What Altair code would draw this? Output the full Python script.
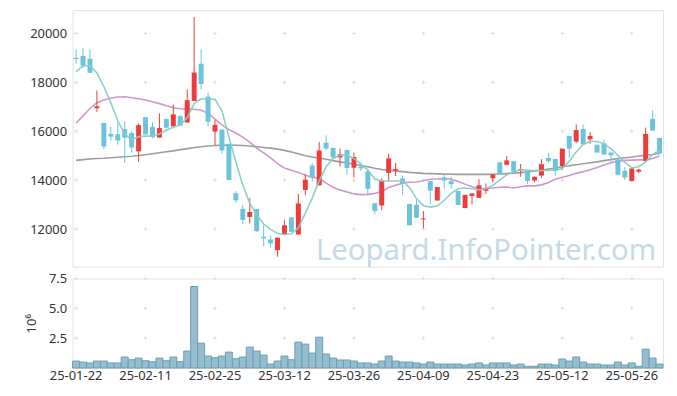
import altair as alt
import pandas as pd

dates = [
    "25-01-22", "25-01-23", "25-01-24", "25-01-31",
    "25-02-03", "25-02-04", "25-02-05", "25-02-06", "25-02-07", "25-02-10", "25-02-11", "25-02-12",
    "25-02-13", "25-02-14", "25-02-17", "25-02-18", "25-02-19", "25-02-20", "25-02-21", "25-02-24",
    "25-02-25", "25-02-26", "25-02-27", "25-02-28",
    "25-03-04", "25-03-05", "25-03-06", "25-03-07", "25-03-10", "25-03-11", "25-03-12", "25-03-13",
    "25-03-14", "25-03-17", "25-03-18", "25-03-19", "25-03-20", "25-03-21", "25-03-24", "25-03-25",
    "25-03-26", "25-03-27", "25-03-28", "25-03-31",
    "25-04-01", "25-04-02", "25-04-03", "25-04-04", "25-04-07", "25-04-08", "25-04-09", "25-04-10",
    "25-04-11", "25-04-14", "25-04-15", "25-04-16", "25-04-17", "25-04-18", "25-04-21", "25-04-22",
    "25-04-23", "25-04-24", "25-04-25", "25-04-28", "25-04-29", "25-04-30",
    "25-05-02", "25-05-07", "25-05-08", "25-05-09", "25-05-12", "25-05-13", "25-05-14", "25-05-15",
    "25-05-16", "25-05-19", "25-05-20", "25-05-21", "25-05-22", "25-05-23", "25-05-26", "25-05-27",
    "25-05-28", "25-05-29", "25-05-30",
]

opens = [19000, 19080, 18960, 16940, 16340, 15890, 15880, 16090, 15930, 15180,
         16580, 16180, 15740, 16500, 16200, 16620, 16360, 17240, 18760, 17410,
         15990, 16070, 15490, 13470, 12830, 12500, 12820, 11690, 11580, 11140,
         11780, 12480, 11780, 13600, 14600, 13790, 15530, 15320, 14930, 15240,
         14510, 14560, 14360, 13060, 12970, 14300, 14400, 14070, 13030, 12990,
         12400, 13960, 13170, 14110, 13960, 13560, 12860, 13360, 13280, 13570,
         14080, 14730, 14630, 14770, 14400, 14390, 13990, 14190, 14910, 14870,
         14580, 15810, 15580, 16090, 15670, 15450, 15500, 15130, 14850, 14380,
         13970, 14350, 14780, 16500, 15730]
highs = [19350, 19390, 19350, 17670, 16340, 16180, 16360, 16400, 16000, 16320,
         16580, 16360, 16730, 16530, 17090, 16660, 17710, 20670, 19350, 17580,
         16470, 16070, 15490, 13560, 13000, 13270, 12820, 12160, 11740, 11650,
         12390, 12480, 13450, 14250, 14700, 15560, 15830, 15320, 15290, 15240,
         15130, 14620, 14460, 13060, 14080, 15090, 14700, 14190, 13030, 13210,
         12740, 13960, 13720, 14240, 14140, 13560, 13400, 13460, 14050, 13870,
         14230, 14730, 14990, 14770, 14660, 14390, 14140, 14860, 15110, 14870,
         15290, 15810, 16280, 16270, 15960, 15450, 15670, 15130, 14850, 14550,
         14480, 14460, 16150, 16860, 15730]
lows = [18750, 18590, 18380, 16790, 15260, 15620, 15450, 14710, 15120, 14750,
        15870, 15720, 15740, 16120, 16200, 16230, 16360, 17240, 17710, 16200,
        15420, 15080, 14010, 13090, 12210, 12230, 11890, 11310, 11250, 10870,
        11780, 11890, 11780, 13400, 13950, 13790, 15220, 14850, 14560, 14210,
        14110, 14380, 13370, 12610, 12780, 13970, 14170, 13390, 12160, 12470,
        12040, 13030, 13170, 13650, 13650, 12990, 12860, 13010, 13280, 13440,
        13910, 14260, 14630, 14350, 14140, 13840, 13910, 14080, 14700, 14190,
        14420, 14910, 15520, 15460, 15490, 15130, 15050, 14750, 14190, 14010,
        13950, 14280, 14780, 16030, 15090]
closes = [18950, 18680, 18390, 17020, 15380, 15780, 15620, 15740, 15340, 16250,
          15870, 15760, 16130, 16150, 16690, 16230, 17270, 18400, 17930, 16390,
          16260, 15220, 14010, 13180, 12380, 12700, 11920, 11620, 11420, 11650,
          12160, 11890, 13050, 14020, 14120, 15210, 15290, 14930, 15060, 14500,
          14950, 14480, 13650, 12740, 13990, 14890, 14460, 13870, 12160, 12470,
          12440, 13570, 13720, 13990, 13840, 12990, 13400, 13460, 13790, 13680,
          14230, 14260, 14810, 14350, 14450, 13970, 14140, 14650, 14780, 14380,
          15290, 15290, 16050, 15460, 15810, 15130, 15050, 15020, 14220, 14110,
          14480, 14430, 15890, 16030, 15090]
# volume in millions of shares
volumes = [0.58, 0.50, 0.42, 0.58, 0.58, 0.42, 0.42, 0.92, 0.69, 0.83,
           0.61, 0.53, 0.83, 0.61, 0.92, 0.53, 1.42, 6.83, 2.08, 1.00,
           0.86, 1.00, 1.33, 0.78, 0.92, 1.75, 1.42, 1.08, 0.33, 0.58,
           1.00, 0.69, 2.17, 2.00, 1.25, 2.58, 1.17, 0.83, 0.67, 0.67,
           0.58, 0.42, 0.42, 0.33, 0.58, 1.00, 0.58, 0.50, 0.50, 0.42,
           0.33, 0.50, 0.33, 0.33, 0.33, 0.33, 0.25, 0.33, 0.42, 0.25,
           0.42, 0.42, 0.42, 0.25, 0.33, 0.14, 0.14, 0.33, 0.33, 0.25,
           0.75, 0.58, 0.92, 0.50, 0.33, 0.33, 0.25, 0.25, 0.50, 0.25,
           0.42, 0.14, 1.58, 0.83, 0.33]
ma_short = [18440, 18680, 18680, 18380, 17820, 17170, 16430, 15890, 15650, 15780,
            15800, 15820, 15890, 16050, 16160, 16260, 16550, 17140, 17330, 17310,
            17310, 16840, 15760, 14750, 13800, 13060, 12590, 12210, 11990, 11820,
            11780, 11810, 12050, 12650, 13280, 13970, 14550, 14890, 15020, 15020,
            14890, 14660, 14420, 14050, 13970, 13970, 13970, 13970, 13700, 13250,
            12970, 12900, 12950, 13180, 13460, 13650, 13680, 13650, 13610, 13650,
            13790, 14010, 14220, 14350, 14420, 14420, 14380, 14400, 14400, 14420,
            14480, 14780, 15150, 15460, 15580, 15580, 15490, 15290, 15020, 14730,
            14510, 14550, 14750, 15050, 15220]
ma_mid = [16340, 16630, 16930, 17170, 17280, 17350, 17400, 17410, 17370, 17330,
          17280, 17210, 17130, 17040, 16960, 16920, 16900, 16900, 16860, 16740,
          16500, 16260, 16070, 15930, 15760, 15560, 15310, 15120, 14910, 14680,
          14500, 14410, 14320, 14200, 14120, 14080, 13880, 13710, 13600, 13520,
          13440, 13410, 13420, 13460, 13540, 13700, 13790, 13880, 13920, 13930,
          13980, 14040, 14050, 14070, 14040, 13950, 13840, 13730, 13650, 13650,
          13680, 13710, 13720, 13680, 13730, 13770, 13770, 13810, 13910, 14040,
          14120, 14190, 14280, 14350, 14430, 14520, 14620, 14710, 14780, 14810,
          14820, 14830, 14830, 14890, 14990]
ma_long = [14810, 14840, 14870, 14890, 14900, 14920, 14940, 14960, 14980, 15010,
           15040, 15080, 15120, 15160, 15200, 15250, 15290, 15340, 15370, 15400,
           15420, 15430, 15430, 15430, 15420, 15400, 15370, 15340, 15310, 15270,
           15220, 15150, 15080, 15000, 14950, 14900, 14860, 14800, 14750, 14700,
           14650, 14600, 14550, 14490, 14440, 14410, 14380, 14350, 14320, 14300,
           14280, 14270, 14260, 14250, 14245, 14240, 14240, 14240, 14240, 14240,
           14245, 14255, 14270, 14290, 14310, 14340, 14380, 14420, 14460, 14500,
           14550, 14590, 14630, 14670, 14710, 14750, 14800, 14840, 14890, 14920,
           14950, 14990, 15020, 15050, 15090]

label_dates = ["25-01-22", "25-02-11", "25-02-25", "25-03-12", "25-03-26",
               "25-04-09", "25-04-23", "25-05-12", "25-05-26"]
price_ticks = [12000, 14000, 16000, 18000, 20000]
vol_ticks = [2.5, 5.0, 7.5]

FONT = "Noto Sans"
RED = "#ef3b3b"
BLUE = "#6cc4dc"
CROSS = "M-1,0L1,0M0,-1L0,1"

df = pd.DataFrame({
    "date": dates, "open": opens, "high": highs, "low": lows, "close": closes,
    "volume": volumes, "ma_short": ma_short, "ma_mid": ma_mid, "ma_long": ma_long,
})
df["dir"] = ["up" if c >= o else "down" for o, c in zip(opens, closes)]

xscale = alt.Scale(domain=dates, paddingInner=0, paddingOuter=0)
x_noaxis = alt.X("date:O", scale=xscale, axis=None)
color = alt.Color("dir:N", scale=alt.Scale(domain=["up", "down"], range=[RED, BLUE]), legend=None)

pscale = alt.Scale(domain=[10470, 20950], nice=False, zero=False)
yaxis = alt.Axis(values=price_ticks, grid=False, ticks=False, domain=False, labelFont=FONT,
                 labelFontSize=13, labelColor="#333333", labelPadding=6, title=None, format="d")

base = alt.Chart(df)

grid_price = alt.Chart(pd.DataFrame(
    [{"date": d, "p": p} for d in label_dates for p in price_ticks]
)).mark_point(shape=CROSS, size=14, filled=False, stroke="#dcdcdc", strokeWidth=1, opacity=1).encode(
    x=x_noaxis, y=alt.Y("p:Q", scale=pscale, axis=yaxis))

wicks = base.mark_rule(strokeWidth=1).encode(
    x=x_noaxis, y=alt.Y("low:Q", scale=pscale, axis=yaxis), y2="high:Q", color=color)
bodies = base.mark_bar(size=5).encode(
    x=x_noaxis, y=alt.Y("open:Q", scale=pscale), y2="close:Q", color=color)

def ma_line(field, col, op):
    return base.mark_line(strokeWidth=1.6, color=col, opacity=op).encode(
        x=x_noaxis, y=alt.Y(f"{field}:Q", scale=pscale))

watermark = alt.Chart(pd.DataFrame({"t": ["Leopard.InfoPointer.com"]})).mark_text(
    align="right", baseline="middle", font=FONT, fontSize=29.5, color="#c5d9e5"
).encode(x=alt.value(587), y=alt.value(242), text="t:N")

price = alt.layer(
    grid_price, watermark,
    ma_line("ma_long", "#8c8c8c", 0.85),
    ma_line("ma_mid", "#c98cc6", 0.9),
    wicks, bodies,
    ma_line("ma_short", "#86cdc4", 0.95),
).properties(width=594, height=258)

vscale = alt.Scale(domain=[0, 7.5], nice=False)
vaxis = alt.Axis(values=vol_ticks, grid=False, ticks=False, domain=False, labelFont=FONT,
                 labelFontSize=13, labelColor="#333333", labelPadding=6, format=".1f",
                 title="10⁶", titleFont=FONT, titleFontSize=13, titleFontWeight="normal",
                 titleColor="#333333", titlePadding=10)
xaxis = alt.Axis(values=label_dates, labelAngle=0, ticks=False, domain=False, grid=False,
                 labelFont=FONT, labelFontSize=13, labelColor="#333333", labelPadding=2, title=None)

grid_vol = alt.Chart(pd.DataFrame(
    [{"date": d, "v": v} for d in label_dates for v in vol_ticks]
)).mark_point(shape=CROSS, size=14, filled=False, stroke="#dcdcdc", strokeWidth=1, opacity=1).encode(
    x=alt.X("date:O", scale=xscale, axis=xaxis), y=alt.Y("v:Q", scale=vscale, axis=vaxis))

vol_bars = base.mark_bar(color="#95bdd0", stroke="#6a9db6", strokeWidth=1).encode(
    x=alt.X("date:O", scale=xscale, axis=xaxis), y=alt.Y("volume:Q", scale=vscale, axis=vaxis))

volume = alt.layer(grid_vol, vol_bars).properties(width=594, height=90)

chart = alt.vconcat(price, volume, spacing=4).properties(
    padding={"left": 17, "top": 0, "right": 5, "bottom": 5}, background="white"
).configure_view(stroke="#e2e2e2", strokeWidth=1)

chart.save("out.html", embed_options={"renderer": "svg", "actions": False})
